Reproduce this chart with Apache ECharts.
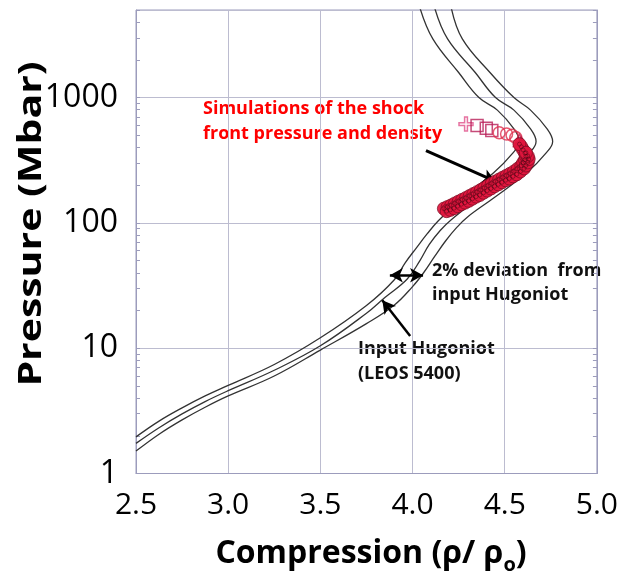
<!DOCTYPE html>
<html><head><meta charset="utf-8">
<script src="https://cdn.jsdelivr.net/npm/echarts@6/dist/echarts.min.js"></script>
<style>html,body{margin:0;padding:0;background:#fff}#c{width:621px;height:575px}</style>
</head><body><div id="c"></div>
<script>
// ---- data ----
const xTicks = [2.5, 3.0, 3.5, 4.0, 4.5, 5.0];
const yTicks = [1, 10, 100, 1000];
// Input Hugoniot (LEOS 5400)
const inputX = [2.5, 2.625, 2.75, 2.875, 3.0, 3.25, 3.5, 3.75, 3.85, 3.97, 4.04, 4.09, 4.15, 4.21, 4.36, 4.53, 4.63, 4.67, 4.64, 4.55, 4.45, 4.34, 4.19, 4.12];
const inputP = [1.74, 2.32, 2.99, 3.75, 4.58, 6.67, 10.45, 19, 25.4, 35.5, 50, 67, 87, 106, 158, 251, 355, 447, 562, 794, 1000, 1585, 2940, 5200];
// -2% deviation curve
const lowX = [2.5, 2.625, 2.75, 2.875, 3.0, 3.25, 3.5, 3.75, 3.9, 3.96, 4.02, 4.08, 4.14, 4.27, 4.44, 4.54, 4.58, 4.55, 4.46, 4.36, 4.25, 4.11, 4.04];
const lowP = [1.96, 2.62, 3.34, 4.16, 5.05, 7.41, 12.1, 21.9, 35, 48, 63, 82, 104, 158, 251, 355, 447, 562, 794, 1000, 1585, 2940, 5200];
// +2% deviation curve
const highX = [2.5, 2.625, 2.75, 2.875, 3.0, 3.25, 3.5, 3.75, 3.9, 4.0, 4.06, 4.12, 4.18, 4.24, 4.30, 4.44, 4.62, 4.72, 4.76, 4.73, 4.64, 4.55, 4.42, 4.27, 4.21];
const highP = [1.51, 2.06, 2.68, 3.38, 4.16, 6.0, 9.66, 15.7, 22, 31, 40, 54, 72, 92, 112, 158, 251, 355, 447, 562, 794, 1000, 1585, 2940, 5200];
// simulated shock front (dense band of overlapping markers)
const simX = [4.17, 4.19, 4.21, 4.23, 4.25, 4.27, 4.29, 4.31, 4.33, 4.35, 4.37, 4.39, 4.41, 4.43, 4.45, 4.47, 4.49, 4.51, 4.53, 4.55, 4.57, 4.59, 4.60, 4.61, 4.615, 4.61, 4.60, 4.59, 4.58,
              4.185, 4.205, 4.225, 4.245, 4.265, 4.285, 4.305, 4.325, 4.345, 4.365, 4.385, 4.405, 4.425, 4.445, 4.465, 4.485, 4.505, 4.525, 4.545, 4.565, 4.585, 4.605, 4.615, 4.625, 4.63, 4.625, 4.615];
const simP = [130, 134, 138, 143, 148, 153, 158, 164, 170, 176, 183, 190, 198, 206, 214, 222, 230, 238, 247, 257, 270, 286, 302, 320, 340, 360, 382, 405, 425,
              124, 127, 131, 136, 141, 145, 150, 156, 162, 167, 174, 181, 188, 196, 203, 211, 219, 226, 235, 244, 257, 272, 287, 304, 323, 342, 363];
// early-time open markers
const trailX = [4.29, 4.35, 4.40, 4.43, 4.47, 4.51, 4.54, 4.56, 4.58, 4.59];
const trailP = [615, 600, 570, 545, 525, 512, 500, 480, 455, 435];
const trailSym = ['plus', 'rect', 'rect', 'rect', 'circle', 'circle', 'circle', 'circle', 'triangle', 'triangle'];
// annotation arrows (data coordinates)
const arrowSim = [[4.073, 378], [4.45, 214]];
const arrowDev = [[3.877, 38.2], [4.057, 38.2]];
const arrowInput = [[3.987, 12.5], [3.836, 24.1]];

const zip = (xs, ys) => xs.map((x, i) => [x, ys[i]]);
const plusPath = 'path://M4,0H6V4H10V6H6V10H4V6H0V4H4Z';
const trailColor = {plus: '#e0508a', rect: '#b81e58', circle: '#e0304e', triangle: '#c0204a'};

const chart = echarts.init(document.getElementById('c'), null, {renderer: 'canvas'});
const gridCol = '#bcbcd0';
const frameCol = '#9c9cbc';
const curveStyle = {color: '#333333', width: 1.3};

const arrowLine = (pts, w, sym) => [
  {coord: pts[0], symbol: sym[0], lineStyle: {width: w, color: '#000', type: 'solid'}},
  {coord: pts[1], symbol: sym[1]}
];

chart.setOption({
  animation: false,
  backgroundColor: '#fff',
  grid: {left: 136, right: 21, top: 10, bottom: 101.5, show: true, borderColor: frameCol, borderWidth: 1, backgroundColor: 'transparent'},
  xAxis: {
    type: 'value', min: xTicks[0], max: xTicks[xTicks.length - 1], interval: 0.5,
    axisLine: {lineStyle: {color: frameCol}},
    axisTick: {show: false},
    splitLine: {show: true, lineStyle: {color: gridCol, width: 1}},
    axisLabel: {fontFamily: 'Open Sans', fontSize: 30, color: '#000', margin: 17,
      formatter: v => v.toFixed(1)}
  },
  yAxis: [{
    type: 'log', logBase: 10, min: yTicks[0], max: 5000,
    axisLine: {show: true, lineStyle: {color: frameCol}},
    axisTick: {show: true, inside: true, length: 4, lineStyle: {color: frameCol}},
    minorTick: {show: true, splitNumber: 9, length: 4, lineStyle: {color: frameCol}},
    splitLine: {show: true, lineStyle: {color: gridCol, width: 1}},
    axisLabel: {fontFamily: 'Open Sans', fontSize: 32, color: '#000', margin: 18, showMaxLabel: false,
      formatter: v => (yTicks.indexOf(Math.round(v)) >= 0 ? String(Math.round(v)) : '')}
  }, {
    type: 'log', logBase: 10, min: yTicks[0], max: 5000, position: 'right',
    axisLine: {show: true, lineStyle: {color: frameCol}},
    axisTick: {show: true, inside: true, length: 4, lineStyle: {color: frameCol}},
    minorTick: {show: true, splitNumber: 9, length: 4, lineStyle: {color: frameCol}},
    splitLine: {show: false},
    axisLabel: {show: false}
  }],
  series: [
    {type: 'line', name: '-2%', data: zip(lowX, lowP), smooth: 0.4, showSymbol: false, lineStyle: curveStyle, clip: true, z: 3},
    {type: 'line', name: 'Input Hugoniot', data: zip(inputX, inputP), smooth: 0.4, showSymbol: false, lineStyle: curveStyle, clip: true, z: 3,
      markLine: {
        silent: true, symbolSize: [11, 13], label: {show: false}, animation: false,
        data: [
          arrowLine(arrowSim, 3, ['none', 'arrow']),
          arrowLine(arrowDev, 2.5, ['arrow', 'arrow']),
          arrowLine(arrowInput, 2.5, ['none', 'arrow'])
        ]
      }},
    {type: 'line', name: '+2%', data: zip(highX, highP), smooth: 0.4, showSymbol: false, lineStyle: curveStyle, clip: true, z: 3},
    {type: 'scatter', name: 'trail', z: 4,
      data: trailX.map((x, i) => ({
        value: [x, trailP[i]],
        symbol: trailSym[i] === 'plus' ? plusPath : trailSym[i],
        symbolSize: trailSym[i] === 'plus' ? 14 : 12,
        itemStyle: {borderColor: trailColor[trailSym[i]]}
      })),
      itemStyle: {color: 'rgba(255,255,255,0)', borderWidth: 1.5}},
    {type: 'scatter', name: 'simulation', z: 5,
      data: zip(simX, simP), symbolSize: 13,
      itemStyle: {color: '#e2163e', borderColor: '#7a0c22', borderWidth: 0.8, opacity: 0.92}},
    {type: 'scatter', name: 'simulation detail', z: 6,
      data: zip(simX, simP), symbolSize: 4,
      itemStyle: {color: 'rgba(0,0,0,0)', borderColor: '#4a0612', borderWidth: 0.7, opacity: 0.7}}
  ],
  graphic: [
    {type: 'text', x: 32, y: 224, rotation: Math.PI / 2, scaleX: 1.28, silent: true,
      style: {text: 'Pressure (Mbar)', fontFamily: 'Open Sans', fontWeight: 'bold', fontSize: 32, fill: '#000', align: 'center', verticalAlign: 'middle'}},
    {type: 'text', x: 371, y: 554, silent: true,
      style: {text: '{a|Compression (ρ/ ρ}{s|o}{a|)}', align: 'center', verticalAlign: 'middle',
        rich: {a: {fontFamily: 'Open Sans', fontWeight: 'bold', fontSize: 32, fill: '#000'},
               s: {fontFamily: 'Open Sans', fontWeight: 'bold', fontSize: 20, fill: '#000', padding: [22, 0, 0, 0]}}}},
    {type: 'text', x: 203, y: 96, silent: true,
      style: {text: 'Simulations of the shock\nfront pressure and density', fontFamily: 'Open Sans', fontWeight: 'bold', fontSize: 18, lineHeight: 25, fill: '#ff0000', align: 'left', verticalAlign: 'top'}},
    {type: 'text', x: 432, y: 259, silent: true,
      style: {text: '2% deviation  from\ninput Hugoniot', fontFamily: 'Open Sans', fontWeight: 'bold', fontSize: 18, lineHeight: 24, fill: '#111', align: 'left', verticalAlign: 'top'}},
    {type: 'text', x: 358, y: 336, silent: true,
      style: {text: 'Input Hugoniot\n(LEOS 5400)', fontFamily: 'Open Sans', fontWeight: 'bold', fontSize: 18, lineHeight: 25, fill: '#111', align: 'left', verticalAlign: 'top'}}
  ]
});
</script></body></html>
